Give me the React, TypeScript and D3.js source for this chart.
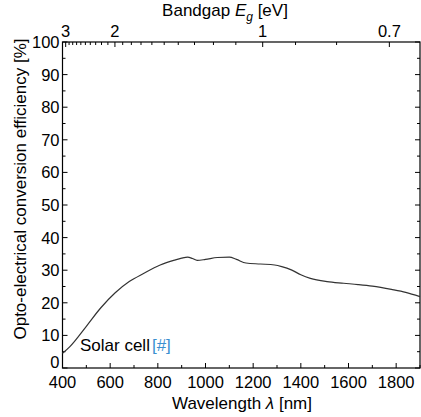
import React from "react";
import * as d3 from "d3";

const wavelengths = [400, 430, 500, 560, 620, 680, 740, 810, 870, 900, 925, 945, 965, 1000, 1050, 1100, 1130, 1170, 1230, 1290, 1320, 1360, 1400, 1440, 1510, 1580, 1640, 1700, 1780, 1840, 1900];
const efficiency = [4.5, 6.5, 12.8, 18.4, 23, 26.5, 29, 31.6, 33.1, 33.7, 34.0, 33.6, 33.0, 33.3, 33.9, 34.0, 33.3, 32.2, 31.9, 31.6, 31.1, 30.1, 28.6, 27.5, 26.5, 26.0, 25.6, 25.1, 24.1, 23.2, 21.9];
const xTicks = [400, 600, 800, 1000, 1200, 1400, 1600, 1800];
const xMinor = [500, 700, 900, 1100, 1300, 1500, 1700, 1900];
const yTicks = [0, 10, 20, 30, 40, 50, 60, 70, 80, 90, 100];
const yMinor = [5, 15, 25, 35, 45, 55, 65, 75, 85, 95];
const eTicks = [3, 2, 1, 0.7];
const eMinor = [2.9, 2.8, 2.7, 2.6, 2.5, 2.4, 2.3, 2.2, 2.1, 1.9, 1.8, 1.7, 1.6, 1.5, 1.4, 1.3, 1.2, 1.1, 0.9, 0.8];

const W = 421, H = 417;
const L = 62.5, R = 420, T = 42, B = 368;
const FONT = "'Liberation Sans', Arial, sans-serif";
const TICK_FS = 16.5;
const TITLE_FS = 17;

export default function App() {
  const x = d3.scaleLinear().domain([400, 1900]).range([L, R]);
  const y = d3.scaleLinear().domain([0, 100]).range([B, T]);
  const ex = (e: number) => x(1240 / e);
  const pts = wavelengths.map((w, i) => [w, efficiency[i]] as [number, number]);
  const line = d3.line<[number, number]>().x(d => x(d[0])).y(d => y(d[1])).curve(d3.curveMonotoneX);
  const tickColor = "#000";
  return (
    <svg width={W} height={H} style={{ position: "absolute", left: 0, top: 0 }} fontFamily={FONT}>
      <rect x={0} y={0} width={W} height={H} fill="#fff" />
      <rect x={L} y={T} width={R - L} height={B - T} fill="none" stroke="#000" strokeWidth={1.2} />
      {yTicks.map(v => (
        <g key={"y" + v}>
          <line x1={L} x2={L + 5} y1={y(v)} y2={y(v)} stroke={tickColor} />
          <line x1={R} x2={R - 5} y1={y(v)} y2={y(v)} stroke={tickColor} />
          <text x={L - 3} y={y(v) - (v === 0 ? 6 : 0)} dy="0.36em" textAnchor="end" fontSize={TICK_FS} fill="#000">{v}</text>
        </g>
      ))}
      {yMinor.map(v => (
        <g key={"ym" + v}>
          <line x1={L} x2={L + 3} y1={y(v)} y2={y(v)} stroke={tickColor} />
          <line x1={R} x2={R - 3} y1={y(v)} y2={y(v)} stroke={tickColor} />
        </g>
      ))}
      {xTicks.map(v => (
        <g key={"x" + v}>
          <line x1={x(v)} x2={x(v)} y1={B} y2={B - 5} stroke={tickColor} />
          <text x={x(v)} y={388} textAnchor="middle" fontSize={TICK_FS} fill="#000">{v}</text>
        </g>
      ))}
      {xMinor.map(v => (
        <line key={"xm" + v} x1={x(v)} x2={x(v)} y1={B} y2={B - 3} stroke={tickColor} />
      ))}
      {eTicks.map(e => (
        <g key={"e" + e}>
          <line x1={ex(e)} x2={ex(e)} y1={T} y2={T + 5} stroke={tickColor} />
          <text x={ex(e)} y={37} textAnchor="middle" fontSize={TICK_FS} fill="#000">{e}</text>
        </g>
      ))}
      {eMinor.map(e => (
        <line key={"em" + e} x1={ex(e)} x2={ex(e)} y1={T} y2={T + 3} stroke={tickColor} />
      ))}
      <path d={line(pts) || ""} fill="none" stroke="#333" strokeWidth={1.2} />
      <text x={80} y={351} fontSize={TITLE_FS} fill="#000">Solar cell<tspan fill="#3a8fd0" dx={2}>[#]</tspan></text>
      <text x={242} y={409} textAnchor="middle" fontSize={TITLE_FS} fill="#000">Wavelength <tspan fontStyle="italic">λ</tspan> [nm]</text>
      <text x={225} y={16} textAnchor="middle" fontSize={TITLE_FS} fill="#000">Bandgap <tspan fontStyle="italic">E</tspan><tspan fontStyle="italic" fontSize={12} dy={5}>g</tspan><tspan dy={-5}> [eV]</tspan></text>
      <text transform={`translate(26,189) rotate(-90)`} textAnchor="middle" fontSize={TITLE_FS} fill="#000">Opto-electrical conversion efficiency [%]</text>
    </svg>
  );
}
